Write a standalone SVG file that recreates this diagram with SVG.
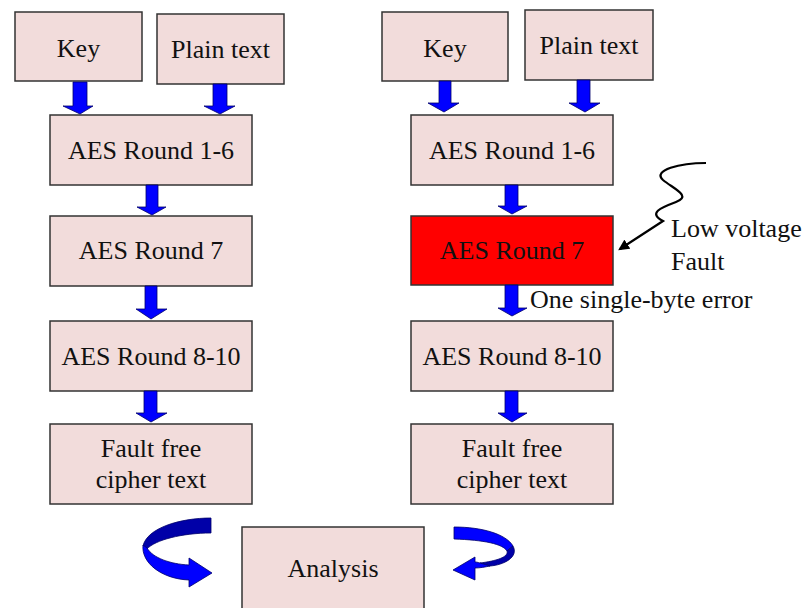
<svg xmlns="http://www.w3.org/2000/svg" width="810" height="608" viewBox="0 0 810 608">
<style>
.box{fill:#f2dcdb;stroke:#333;stroke-width:1.5}
.red{fill:#ff0000;stroke:#333;stroke-width:1.5}
text{font-family:'Times New Roman','Liberation Serif',serif;font-size:26px;fill:#111}
.c{text-anchor:middle}
.ba{fill:#0000ff;stroke:#00006a;stroke-width:0.8}
.dk{fill:#0000a8;stroke:#00006a;stroke-width:0.8}
</style>
<defs>
<marker id="ah" viewBox="0 0 10 10" refX="8" refY="5" markerWidth="5" markerHeight="5" orient="auto">
<path d="M0,0 L10,5 L0,10 z" fill="#000"/>
</marker>
</defs>
<rect width="810" height="608" fill="#fff"/>
<g id="key-left"><rect class="box" x="15" y="12" width="127" height="69"/><text class="c" x="78.5" y="57">Key</text></g>
<g id="plain-left"><rect class="box" x="157" y="14" width="127" height="70"/><text class="c" x="220.5" y="58">Plain text</text></g>
<g id="r16-left"><rect class="box" x="50" y="115" width="202" height="70"/><text class="c" x="151" y="159">AES Round 1-6</text></g>
<g id="r7-left"><rect class="box" x="50" y="216" width="202" height="70"/><text class="c" x="151" y="259">AES Round 7</text></g>
<g id="r810-left"><rect class="box" x="50" y="321" width="202" height="70"/><text class="c" x="151" y="365">AES Round 8-10</text></g>
<g id="ff-left"><rect class="box" x="50" y="424" width="202" height="80"/><text class="c" x="151" y="457">Fault free</text><text class="c" x="151" y="488">cipher text</text></g>

<g id="key-right"><rect class="box" x="382" y="12" width="126" height="69"/><text class="c" x="445" y="57">Key</text></g>
<g id="plain-right"><rect class="box" x="525" y="10" width="128" height="70"/><text class="c" x="589" y="54">Plain text</text></g>
<g id="r16-right"><rect class="box" x="411" y="115" width="202" height="70"/><text class="c" x="512" y="159">AES Round 1-6</text></g>
<g id="r7-right"><rect class="red" x="411" y="216" width="202" height="69"/><text class="c" x="512" y="259">AES Round 7</text></g>
<g id="r810-right"><rect class="box" x="411" y="321" width="202" height="70"/><text class="c" x="512" y="365">AES Round 8-10</text></g>
<g id="ff-right"><rect class="box" x="411" y="424" width="202" height="80"/><text class="c" x="512" y="457">Fault free</text><text class="c" x="512" y="488">cipher text</text></g>

<g id="analysis"><rect class="box" x="242" y="527" width="182" height="90"/><text class="c" x="333" y="577">Analysis</text></g>

<g id="labels">
<text x="671" y="237">Low voltage</text>
<text x="671" y="270">Fault</text>
<text x="530" y="308">One single-byte error</text>
</g>
<g id="connectors">
<polygon class="ba" points="73,82 87,82 87,106 93,106 80,114 63,106 73,106"/>
<polygon class="ba" points="213,84 227,84 227,106 235,106 220,114 204,106 213,106"/>
<polygon class="ba" points="146,185 158,185 158,207 166,207 152,215 137,207 146,207"/>
<polygon class="ba" points="145,286 157,286 157,309 167,309 151,319 136,309 145,309"/>
<polygon class="ba" points="144,391 157,391 157,413 167,413 151,422 136,413 144,413"/>

<polygon class="ba" points="439,81 451,81 451,103 459,103 444,112 428,103 439,103"/>
<polygon class="ba" points="577,80 590,80 590,103 600,103 585,112 569,103 577,103"/>
<polygon class="ba" points="505,185 518,185 518,206 527,206 512,214 498,206 505,206"/>
<polygon class="ba" points="505,285 518,285 518,308 527,308 512,316 498,308 505,308"/>
<polygon class="ba" points="505,391 518,391 518,413 527,413 512,422 498,413 505,413"/>

<path d="M706,163 C680,163 652,170 663,180 C674,189 692,196 676,202 C660,208 648,213 663,221 L620,249" fill="none" stroke="#000" stroke-width="2.2" marker-end="url(#ah)"/>

<path class="dk" d="M211,518 L211,533 C182,533 155,540 147,549 L143,546 C147,528 180,518 211,518 Z"/>
<path class="ba" d="M143,545 C141,563 162,579 189,580 L189,587 L212,573 L189,558 L189,565 C170,564 153,558 147,548 Z"/>

<path class="ba" d="M454,527 C482,527 506,534 513,546 L507,551 C503,544 484,540 454,539 Z"/>
<path class="dk" d="M513,546 C519,557 504,565 490,566 L480,563 C496,561 509,557 507,551 Z"/>
<path class="ba" d="M490,566 C485,567 480,568 475,568 L475,580 L453,570 L475,557 L475,562 C478,562 479,563 480,563 Z"/>
</g>
</svg>
